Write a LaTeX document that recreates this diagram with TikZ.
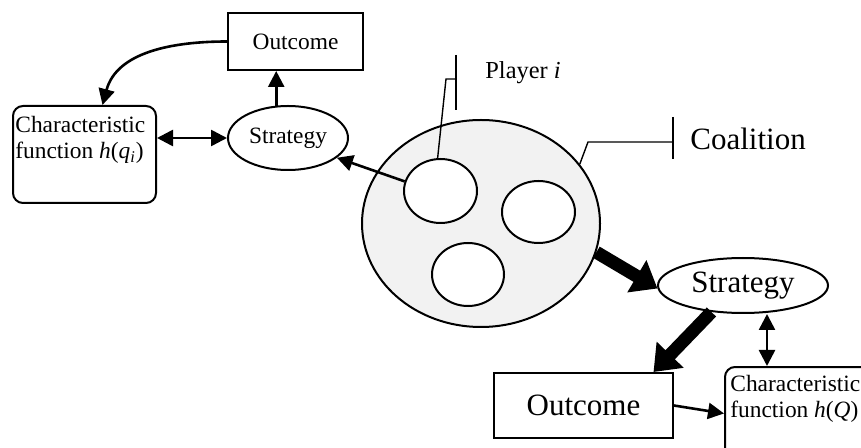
\documentclass[tikz,border=0pt]{standalone}
\usepackage{fontspec}
\setmainfont{Liberation Serif}
\usetikzlibrary{shapes.geometric,arrows.meta}
\definecolor{coalfill}{HTML}{F2F2F2}

\begin{document}
\begin{tikzpicture}[x=0.5pt,y=-0.5pt]
   \tikzstyle{every node}=[font=\fontsize{11.7}{13}\selectfont, inner sep=0pt]
   \tikzstyle{box}=[draw, line width=1pt]
   \tikzstyle{roundbox}=[draw, line width=1pt, rounded corners=5pt]
   \tikzstyle{oval}=[draw, ellipse, line width=1pt, fill=white]
   \tikzstyle{big}=[font=\fontsize{15.5}{18}\selectfont]
   \tikzstyle{thinarrow}=[line width=1.3pt, -{Triangle[length=8pt,width=8pt]}]
   \tikzstyle{twoway}=[line width=1.3pt, {Triangle[length=8pt,width=8pt]}-{Triangle[length=8pt,width=8pt]}]
   \tikzstyle{fatarrow}=[line width=6.5pt, -{Triangle[length=12pt,width=18pt]}]
   \tikzstyle{tag}=[line width=0.7pt]

\clip (0,0) rectangle (861,448);

\node[box, minimum width=67.5pt, minimum height=28.5pt] (outTop) at (295.5,41.5) {Outcome};
\node[roundbox, minimum width=71.5pt, minimum height=48.5pt] (charTop) at (84.5,154.5) {};
\node[anchor=north west, align=left] (charTopText) at (15,116)
    {Characteristic\\function \textit{h}(\textit{q}\textsubscript{\textit{i}})};
\node[oval, minimum width=60pt, minimum height=32pt] (stratTop) at (288,138) {Strategy};

\node[oval, fill=coalfill, minimum width=119pt, minimum height=103.5pt] (coalition) at (481,223.5) {};
\node[oval, minimum width=36.5pt, minimum height=32pt] (playerA) at (440.5,191) {};
\node[oval, minimum width=36.5pt, minimum height=31pt] (playerB) at (538.5,212) {};
\node[oval, minimum width=36pt, minimum height=31.5pt] (playerC) at (468,274.5) {};

\coordinate (pBend) at (446,79);
\coordinate (pBarTop) at (456,55);
\coordinate (pBarBot) at (456,110);
\node[anchor=west, font=\fontsize{12.2}{14}\selectfont] (playerLabel) at (485,73) {Player \textit{i}};

\coordinate (cBend) at (588,142);
\coordinate (cBarTop) at (673,117);
\coordinate (cBarBot) at (673,159);
\node[anchor=west, big] (coalLabel) at (690,139) {Coalition};

\node[oval, big, minimum width=85pt, minimum height=27.5pt] (stratBig) at (743,285.5) {Strategy};
\node[box, big, minimum width=89.5pt, minimum height=32.5pt] (outBot) at (583.5,405.5) {Outcome};
\node[roundbox, minimum width=87.5pt, minimum height=56.5pt] (charBot) at (812.5,423.5) {};
\node[anchor=north west, align=left] (charBotText) at (730,375)
    {Characteristic\\function \textit{h}(\textit{Q})};

\draw[thinarrow] (outTop.west) to[out=180, in=75] ([xshift=9pt]charTop.north);
\draw[thinarrow] (stratTop.110) -- (stratTop.110 |- outTop.south);
\draw[twoway] (stratTop.west -| charTop.east) -- (stratTop.west);
\draw[thinarrow] (playerA.165) -- (stratTop.-22);

\draw[tag] (playerA.95) -- (pBend) -- (pBarTop |- pBend);
\draw[line width=1pt] (pBarTop) -- (pBarBot);
\draw[tag] (coalition.31) -- (cBend) -- (cBarTop |- cBend);
\draw[line width=1pt] (cBarTop) -- (cBarBot);

\draw[fatarrow] (coalition.-14) -- (stratBig.182);
\draw[fatarrow] (stratBig.-140) -- ([xshift=35pt]outBot.north);
\draw[twoway] ([xshift=12pt]stratBig.south) -- ([xshift=12pt]stratBig.south |- charBot.north);
\draw[thinarrow] (outBot.east) -- ([yshift=5pt]charBot.west);

\end{tikzpicture}
\end{document}
